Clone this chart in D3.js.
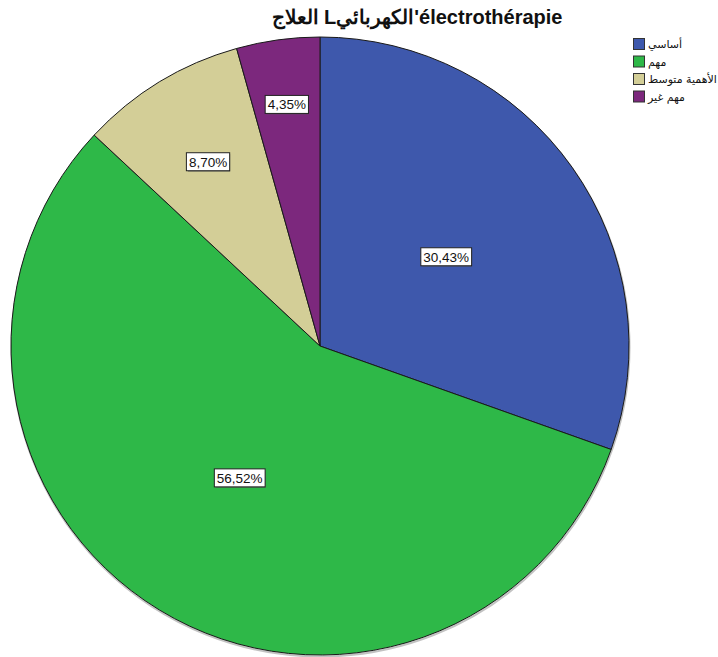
<!DOCTYPE html>
<html>
<head>
<meta charset="utf-8">
<script src="https://cdn.jsdelivr.net/npm/d3@7/dist/d3.min.js"></script>
<style>
  html, body { margin: 0; padding: 0; background: #fff; }
  svg { display: block; }
</style>
</head>
<body>
<svg id="chart" width="718" height="657"></svg>
<script>
// Responses to the question on electrotherapy (n = 23)
const categories = ["أساسي", "مهم", "الأهمية متوسط", "مهم غير"];
const counts = [7, 13, 2, 1];
const percentLabels = ["30,43%", "56,52%", "8,70%", "4,35%"];
const colors = ["#3e58ac", "#2eb848", "#d3ce97", "#7c287d"];
const title = "العلاج Lالكهربائي'électrothérapie";

const svg = d3.select("#chart");
const W = 718, H = 657;
const cx = 320, cy = 346, R = 309;

svg.append("rect").attr("width", W).attr("height", H).attr("fill", "#fff");

// Title
svg.append("text")
  .attr("x", 417).attr("y", 24)
  .attr("text-anchor", "middle")
  .attr("direction", "ltr")
  .attr("font-family", "Liberation Sans, Arial, sans-serif")
  .attr("font-weight", "bold")
  .attr("font-size", 20)
  .attr("fill", "#111")
  .text(title);

const total = d3.sum(counts);
const pie = d3.pie().sort(null).value(d => d)(counts);
const arc = d3.arc().innerRadius(0).outerRadius(R);

const g = svg.append("g").attr("transform", `translate(${cx},${cy})`);

// soft shadow under the pie edge
g.append("circle").attr("r", R).attr("cx", 0.5).attr("cy", 1.5)
  .attr("fill", "none").attr("stroke", "#999").attr("stroke-width", 2).attr("opacity", 0.6);

g.selectAll("path.slice")
  .data(pie)
  .join("path")
  .attr("class", "slice")
  .attr("d", arc)
  .attr("fill", (d, i) => colors[i])
  .attr("stroke", "#1a1a1a")
  .attr("stroke-width", 1);

// Value labels: larger slices get labels at mid-radius, thin slices further out
const labels = g.selectAll("g.lbl")
  .data(pie)
  .join("g")
  .attr("class", "lbl")
  .attr("transform", d => {
    const frac = d.value / total;
    const k = Math.max(0.5, 0.88 - 2.1 * frac);
    const a = (d.startAngle + d.endAngle) / 2;
    return `translate(${Math.sin(a) * R * k},${-Math.cos(a) * R * k})`;
  });

labels.each(function(d, i) {
  const gl = d3.select(this);
  const t = gl.append("text")
    .attr("text-anchor", "middle")
    .attr("dy", "0.36em")
    .attr("font-family", "Liberation Sans, Arial, sans-serif")
    .attr("font-size", 13.5)
    .attr("fill", "#111")
    .text(percentLabels[i]);
  const bb = t.node().getBBox();
  gl.insert("rect", "text")
    .attr("x", bb.x - 1).attr("y", bb.y - 0.5)
    .attr("width", bb.width + 4).attr("height", bb.height + 2.5)
    .attr("fill", "#555").attr("opacity", 0.6);
  gl.insert("rect", "text")
    .attr("x", bb.x - 2.5).attr("y", bb.y - 2)
    .attr("width", bb.width + 5).attr("height", bb.height + 3)
    .attr("fill", "#fff").attr("stroke", "#222").attr("stroke-width", 1);
});

// Legend
const leg = svg.append("g").attr("transform", "translate(633,38)");
const items = leg.selectAll("g").data(categories).join("g")
  .attr("transform", (d, i) => `translate(0,${i * 17.5})`);
items.append("rect")
  .attr("x", 0.5).attr("y", 0.5).attr("width", 11).attr("height", 11)
  .attr("fill", (d, i) => colors[i])
  .attr("stroke", "#333").attr("stroke-width", 1);
items.append("text")
  .attr("x", 15).attr("y", 10)
  .attr("font-family", "DejaVu Sans, sans-serif")
  .attr("font-size", 11)
  .attr("fill", "#111")
  .text(d => d);
</script>
</body>
</html>
